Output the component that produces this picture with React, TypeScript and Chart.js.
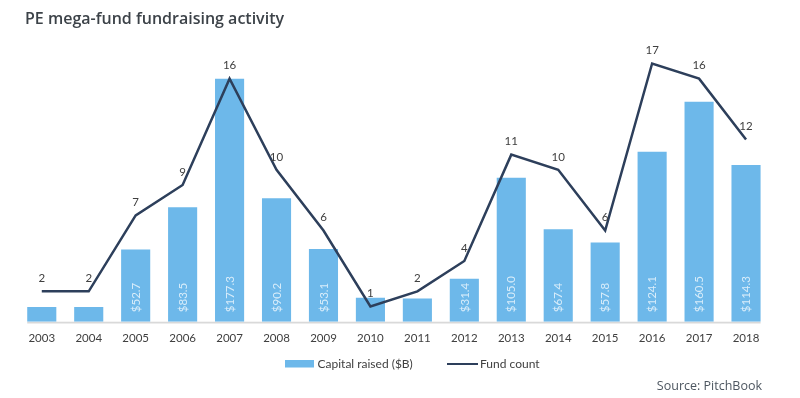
import React, { useEffect, useRef } from "react";
import { Chart, registerables } from "chart.js";

Chart.register(...registerables);

const years = ["2003", "2004", "2005", "2006", "2007", "2008", "2009", "2010", "2011", "2012", "2013", "2014", "2015", "2016", "2017", "2018"];
const capitalRaised = [10.8, 10.8, 52.7, 83.5, 177.3, 90.2, 53.1, 17.4, 16.9, 31.4, 105.0, 67.4, 57.8, 124.1, 160.5, 114.3];
const capitalLabels = [null, null, "$52.7", "$83.5", "$177.3", "$90.2", "$53.1", null, null, "$31.4", "$105.0", "$67.4", "$57.8", "$124.1", "$160.5", "$114.3"];
const fundCount = [2, 2, 7, 9, 16, 10, 6, 1, 2, 4, 11, 10, 6, 17, 16, 12];

const TITLE = "PE mega-fund fundraising activity";
const SOURCE = "Source: PitchBook";
const BAR_NAME = "Capital raised ($B)";
const LINE_NAME = "Fund count";

const BAR_COLOR = "#6db8ea";
const LINE_COLOR = "#2d3f5b";
const LABEL_FONT = "Lato, 'Liberation Sans', sans-serif";
const HEAD_FONT = "'Open Sans', 'Noto Sans', sans-serif";

const decorPlugin = {
  id: "decor",
  beforeDatasetsDraw(chart: any) {
    const ctx = chart.ctx;
    const meta = chart.getDatasetMeta(0);
    const els = meta.data;
    if (!els.length) return;
    const first = els[0];
    const last = els[els.length - 1];
    const left = first.x - first.width / 2;
    const right = last.x + last.width / 2;
    const base = first.base;
    ctx.save();
    ctx.fillStyle = "#d9d9d9";
    ctx.fillRect(left, base, right - left, 1.8);
    ctx.restore();
  },
  afterDatasetDraw(chart: any, args: any) {
    if (args.index !== 0) return;
    const ctx = chart.ctx;
    const meta = chart.getDatasetMeta(0);
    ctx.save();
    ctx.font = `11.5px ${LABEL_FONT}`;
    ctx.fillStyle = "#d9edfa";
    ctx.textAlign = "left";
    ctx.textBaseline = "middle";
    meta.data.forEach((el: any, i: number) => {
      const txt = capitalLabels[i];
      if (!txt) return;
      ctx.save();
      ctx.translate(el.x + 0.5, el.base - 9.5);
      ctx.rotate(-Math.PI / 2);
      ctx.fillText(txt, 0, 0);
      ctx.restore();
    });
    ctx.restore();
  },
  afterDatasetsDraw(chart: any) {
    const ctx = chart.ctx;
    const meta = chart.getDatasetMeta(1);
    ctx.save();
    ctx.font = `11.5px ${LABEL_FONT}`;
    ctx.fillStyle = "#404040";
    ctx.textAlign = "center";
    ctx.textBaseline = "middle";
    meta.data.forEach((el: any, i: number) => {
      ctx.fillText(String(fundCount[i]), el.x, el.y - 13);
    });
    ctx.restore();
  },
  afterDraw(chart: any) {
    const ctx = chart.ctx;
    ctx.save();
    // title
    ctx.font = `600 16px ${HEAD_FONT}`;
    ctx.fillStyle = "#3c4248";
    ctx.textAlign = "left";
    ctx.textBaseline = "alphabetic";
    ctx.fillText(TITLE, 25, 23.5);
    // legend
    ctx.fillStyle = BAR_COLOR;
    ctx.fillRect(285, 360, 29, 7.5);
    ctx.font = `12px ${LABEL_FONT}`;
    ctx.fillStyle = "#404040";
    ctx.textBaseline = "middle";
    ctx.fillText(BAR_NAME, 317.5, 364);
    ctx.strokeStyle = LINE_COLOR;
    ctx.lineWidth = 2;
    ctx.beginPath();
    ctx.moveTo(447, 364);
    ctx.lineTo(478, 364);
    ctx.stroke();
    ctx.fillText(LINE_NAME, 480, 364);
    // source
    ctx.font = `12.5px ${HEAD_FONT}`;
    ctx.fillStyle = "#4d5660";
    ctx.textAlign = "right";
    ctx.fillText(SOURCE, 762, 386);
    ctx.restore();
  },
};

export default function App() {
  const ref = useRef<HTMLCanvasElement | null>(null);
  useEffect(() => {
    if (!ref.current) return;
    const chart = new Chart(ref.current, {
      type: "bar",
      data: {
        labels: years,
        datasets: [
          {
            type: "bar",
            label: BAR_NAME,
            data: capitalRaised,
            backgroundColor: BAR_COLOR,
            borderWidth: 0,
            categoryPercentage: 1,
            barPercentage: 0.62,
            yAxisID: "y",
            order: 2,
          },
          {
            type: "line",
            label: LINE_NAME,
            data: fundCount,
            borderColor: LINE_COLOR,
            borderWidth: 2.5,
            pointRadius: 0,
            tension: 0,
            fill: false,
            yAxisID: "y1",
            order: 1,
          },
        ],
      } as any,
      options: {
        responsive: false,
        animation: false,
        layout: { padding: { left: 18.3, right: 30.5, top: 47.7, bottom: 42.5 } },
        plugins: {
          legend: { display: false },
          title: { display: false },
          tooltip: { enabled: false },
        },
        scales: {
          x: {
            grid: { display: false, drawTicks: false },
            border: { display: false },
            ticks: {
              color: "#404040",
              font: { family: LABEL_FONT, size: 11.5 },
              padding: 10,
              maxRotation: 0,
              autoSkip: false,
            },
          },
          y: { display: false, min: 0, max: 200 },
          y1: { display: false, min: 0, max: 18.04, position: "right" },
        },
      } as any,
      plugins: [decorPlugin],
    });
    return () => chart.destroy();
  }, []);
  return (
    <div style={{ position: "fixed", left: 0, top: 0, width: 800, height: 398, background: "#fff" }}>
      <canvas ref={ref} width={800} height={398} style={{ width: 800, height: 398, display: "block" }} />
    </div>
  );
}
